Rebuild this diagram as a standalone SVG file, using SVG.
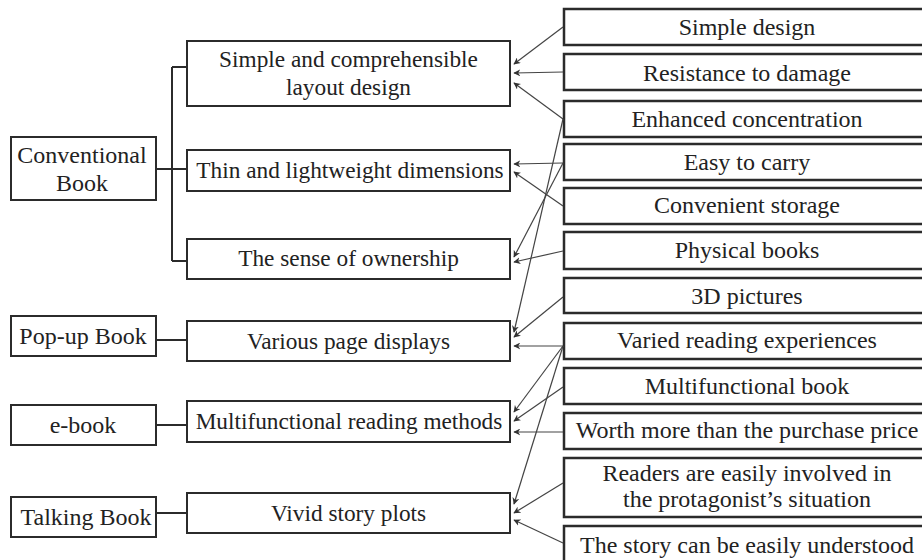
<svg xmlns="http://www.w3.org/2000/svg" width="922" height="560" viewBox="0 0 922 560">
  <style>
    .box { fill: #ffffff; stroke: #2b2b2b; stroke-width: 2; }
    .rbox { fill: #ffffff; stroke: #2b2b2b; stroke-width: 2.5; }
    .txt { font-family: "Liberation Serif", "Times New Roman", serif; font-size: 24px; fill: #222222; text-anchor: middle; }
    .mid { font-size: 23.3px; }
    .tree { fill: none; stroke: #2b2b2b; stroke-width: 2; }
    .arr { fill: none; stroke: #444444; stroke-width: 1.2; marker-end: url(#head); }
  </style>
  <defs>
    <marker id="head" viewBox="0 0 10 10" refX="9" refY="5" markerWidth="7" markerHeight="7" markerUnits="userSpaceOnUse" orient="auto">
      <path d="M0,0 L10,5 L0,10 L3,5 Z" fill="#333333"/>
    </marker>
  </defs>
  <rect width="922" height="560" fill="#ffffff"/>

  <!-- book types -->
  <g id="conventional-book">
    <rect class="box" x="11" y="137" width="145" height="63"/>
    <text class="txt" x="82" y="163">Conventional</text>
    <text class="txt" x="82" y="191">Book</text>
  </g>
  <g id="popup-book">
    <rect class="box" x="11" y="316" width="145" height="40"/>
    <text class="txt" x="83" y="344">Pop-up Book</text>
  </g>
  <g id="e-book">
    <rect class="box" x="11" y="405" width="145" height="40"/>
    <text class="txt" x="83" y="433">e-book</text>
  </g>
  <g id="talking-book">
    <rect class="box" x="11" y="497" width="145" height="40"/>
    <text class="txt" x="86" y="525">Talking Book</text>
  </g>

  <!-- characteristics -->
  <g id="layout-design">
    <rect class="box" x="187" y="41" width="323" height="65"/>
    <text class="txt mid" x="348.5" y="67">Simple and comprehensible</text>
    <text class="txt mid" x="348.5" y="95">layout design</text>
  </g>
  <g id="thin-lightweight">
    <rect class="box" x="187" y="150" width="323" height="41"/>
    <text class="txt mid" x="350" y="178">Thin and lightweight dimensions</text>
  </g>
  <g id="ownership">
    <rect class="box" x="187" y="239" width="323" height="40"/>
    <text class="txt mid" x="348.5" y="266">The sense of ownership</text>
  </g>
  <g id="page-displays">
    <rect class="box" x="187" y="321" width="323" height="40"/>
    <text class="txt mid" x="348.5" y="349">Various page displays</text>
  </g>
  <g id="reading-methods">
    <rect class="box" x="187" y="401" width="323" height="41"/>
    <text class="txt mid" x="349" y="429">Multifunctional reading methods</text>
  </g>
  <g id="story-plots">
    <rect class="box" x="187" y="493" width="323" height="40"/>
    <text class="txt mid" x="348.5" y="521">Vivid story plots</text>
  </g>

  <!-- attributes -->
  <g id="simple-design">
    <rect class="rbox" x="564" y="9" width="364" height="36"/>
    <text class="txt" x="747" y="35">Simple design</text>
  </g>
  <g id="resistance">
    <rect class="rbox" x="564" y="54" width="364" height="36"/>
    <text class="txt" x="747" y="81">Resistance to damage</text>
  </g>
  <g id="concentration">
    <rect class="rbox" x="564" y="101" width="364" height="36"/>
    <text class="txt" x="747" y="127">Enhanced concentration</text>
  </g>
  <g id="easy-carry">
    <rect class="rbox" x="564" y="144" width="364" height="36"/>
    <text class="txt" x="747" y="170">Easy to carry</text>
  </g>
  <g id="storage">
    <rect class="rbox" x="564" y="188" width="364" height="36"/>
    <text class="txt" x="747" y="213">Convenient storage</text>
  </g>
  <g id="physical-books">
    <rect class="rbox" x="564" y="232" width="364" height="37"/>
    <text class="txt" x="747" y="258">Physical books</text>
  </g>
  <g id="pictures-3d">
    <rect class="rbox" x="564" y="278" width="364" height="35"/>
    <text class="txt" x="747" y="304">3D pictures</text>
  </g>
  <g id="varied-experiences">
    <rect class="rbox" x="564" y="323" width="364" height="36"/>
    <text class="txt" x="747" y="348">Varied reading experiences</text>
  </g>
  <g id="multifunctional-book">
    <rect class="rbox" x="564" y="368" width="364" height="36"/>
    <text class="txt" x="747" y="394">Multifunctional book</text>
  </g>
  <g id="worth-more">
    <rect class="rbox" x="564" y="413" width="364" height="36"/>
    <text class="txt" x="747" y="438">Worth more than the purchase price</text>
  </g>
  <g id="readers-involved">
    <rect class="rbox" x="564" y="458" width="364" height="59"/>
    <text class="txt" x="747" y="481">Readers are easily involved in</text>
    <text class="txt" x="747" y="507">the protagonist’s situation</text>
  </g>
  <g id="easily-understood">
    <rect class="rbox" x="564" y="526" width="364" height="40"/>
    <text class="txt" x="747" y="553">The story can be easily understood</text>
  </g>

  <!-- connectors -->
  <g id="connectors">
    <path class="tree" d="M156,169 H172 M172,67 V261 M172,67 H187 M172,169 H187 M172,261 H187"/>
    <path class="tree" d="M156,340 H187"/>
    <path class="tree" d="M156,425 H187"/>
    <path class="tree" d="M156,513 H187"/>

    <line class="arr" x1="563" y1="27" x2="514" y2="64"/>
    <line class="arr" x1="563" y1="72" x2="514" y2="73"/>
    <line class="arr" x1="563" y1="119" x2="514" y2="83"/>
    <line class="arr" x1="563" y1="163" x2="514" y2="164"/>
    <line class="arr" x1="563" y1="206" x2="514" y2="172"/>
    <line class="arr" x1="563" y1="163" x2="514" y2="257"/>
    <line class="arr" x1="563" y1="251" x2="514" y2="262"/>
    <line class="arr" x1="563" y1="119" x2="514" y2="332"/>
    <line class="arr" x1="563" y1="297" x2="514" y2="337"/>
    <line class="arr" x1="563" y1="346" x2="514" y2="346"/>
    <line class="arr" x1="563" y1="346" x2="514" y2="412"/>
    <line class="arr" x1="563" y1="387" x2="514" y2="421"/>
    <line class="arr" x1="563" y1="432" x2="514" y2="432"/>
    <line class="arr" x1="563" y1="346" x2="514" y2="504"/>
    <line class="arr" x1="563" y1="483" x2="514" y2="513"/>
    <line class="arr" x1="563" y1="543" x2="514" y2="520"/>
  </g>
</svg>
